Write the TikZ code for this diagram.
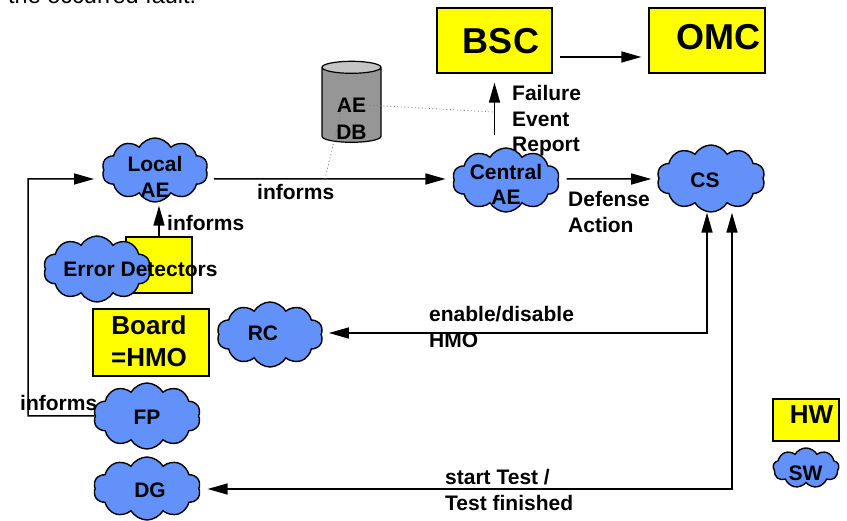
\documentclass[tikz,border=0pt]{standalone}
\usepackage{fontspec}
\setmainfont{Liberation Sans}
\usetikzlibrary{arrows.meta,shapes.symbols,shapes.geometric}
\definecolor{hwyellow}{RGB}{255,255,0}
\definecolor{swblue}{RGB}{98,145,250}
\definecolor{dbbody}{RGB}{150,150,150}
\definecolor{dbend}{RGB}{196,196,196}

\tikzset{
  box/.style={draw, line width=1.2pt, fill=hwyellow, inner sep=0pt},
  blob/.style={cloud, cloud puffs=10, cloud puff arc=120, cloud ignores aspect,
    draw, line width=1.4pt, fill=swblue, inner sep=0pt},
  txt/.style={font=\fontsize{21}{25.5}\selectfont\bfseries, inner sep=0pt, align=left},
  bigtxt/.style={font=\fontsize{36}{40}\selectfont\bfseries, inner sep=0pt},
  midtxt/.style={font=\fontsize{26}{32}\selectfont\bfseries, inner sep=0pt, align=center},
  flow/.style={line width=1.5pt, -{Triangle[length=20pt,width=11pt]}},
  flow2/.style={line width=1.5pt, {Triangle[length=20pt,width=11pt]}-{Triangle[length=20pt,width=11pt]}},
  dbline/.style={gray, line width=0.8pt, dash pattern=on 1pt off 2.5pt}
}

\begin{document}
\begin{tikzpicture}[x=1pt, y=-1pt]
\useasboundingbox (0,0) rectangle (847,521);

\node[anchor=base west, font=\fontsize{23.5}{28}\selectfont, inner sep=0pt] (head) at (8,3.5) {the occurred fault.};

% boxes
\node[box, minimum width=115pt, minimum height=65pt] (bsc) at (494.5,40.5) {};
\node[bigtxt] (bsct) at (501,41.5) {BSC};
\node[box, minimum width=116pt, minimum height=65pt] (omc) at (707,40.5) {};
\node[bigtxt] (omct) at (718,37) {OMC};
\node[box, minimum width=66pt, minimum height=56pt] (edbox) at (159,265) {};
\node[box, minimum width=116pt, minimum height=67pt] (board) at (151,342.5) {};
\node[midtxt] (boardt) at (149,341) {Board\\=HMO};
\node[box, minimum width=66pt, minimum height=42pt] (hw) at (806,420) {};
\node[midtxt] (hwt) at (811.5,415) {HW};

% data base
\node[cylinder, shape border rotate=90, draw, line width=1.2pt, aspect=1.8,
  minimum width=59pt, minimum height=81pt, cylinder uses custom fill,
  cylinder body fill=dbbody, cylinder end fill=dbend] (db) at (351.5,106.5) {};
\node[txt, align=center, font=\fontsize{21}{27.5}\selectfont\bfseries] (dbt) at (351.5,119) {AE\\DB};

% clouds
\node[blob, minimum width=106pt, minimum height=64pt] (lae) at (155,170) {};
\node[txt, align=center] (laet) at (155,177) {Local\\AE};
\node[blob, minimum width=107pt, minimum height=64pt] (cae) at (506,180) {};
\node[txt, align=center] (caet) at (506,184.5) {Central\\AE};
\node[blob, minimum width=108pt, minimum height=67pt] (cs) at (711,178.5) {};
\node[txt] (cst) at (705,180) {CS};
\node[blob, minimum width=107pt, minimum height=66pt] (ed) at (97,269) {};
\node[txt] (edt) at (140.5,269) {Error Detectors};
\node[blob, minimum width=106pt, minimum height=65pt] (rc) at (270,334.5) {};
\node[txt] (rct) at (263,333) {RC};
\node[blob, minimum width=107pt, minimum height=66pt] (fp) at (147,416) {};
\node[txt] (fpt) at (147,417) {FP};
\node[blob, minimum width=107pt, minimum height=63pt] (dg) at (147,488.5) {};
\node[txt] (dgt) at (150,490) {DG};
\node[blob, minimum width=66pt, minimum height=40pt, cloud puffs=9] (sw) at (806,468) {};
\node[txt] (swt) at (805.5,473) {SW};

% connectors
\coordinate (fer) at (494,112);
\coordinate (inf) at (325,179);
\draw[flow, shorten <=7pt, shorten >=8pt] ([yshift=-9pt]lae.east) -- ([yshift=1pt]cae.west);
\draw[flow, shorten >=3pt] (edbox.north) -- (edbox.north |- lae.south);
\draw[flow, shorten >=9pt] (fp.west) -| (28,179) -- ([yshift=-9pt]lae.west);
\draw[flow, shorten <=8pt, shorten >=7pt] ([yshift=1pt]cae.east) -- ([yshift=-0.5pt]cs.west);
\draw[flow, shorten <=12pt, shorten >=9pt] (cae.north -| bsc.south) -- (bsc.south);
\draw[flow, shorten <=7pt, shorten >=7pt] ([yshift=-16.5pt]bsc.east) -- ([yshift=-16.5pt]omc.west);
\draw[flow2, shorten <=7pt] ([yshift=1.5pt]rc.east) -| ([xshift=-4pt]cs.south);
\draw[flow2, shorten <=8pt] ([yshift=-0.5pt]dg.east) -| ([xshift=21pt]cs.south);
\draw[dbline] ([shift={(14.5,-1.5)}]db.center) -- (fer);
\draw[dbline] ([shift={(-8.5,-3.5)}]db.center) -- (inf);

% labels
\node[txt, anchor=west] (l1) at (257,192) {informs};
\node[txt, anchor=west] (l2) at (167,222.5) {informs};
\node[txt, anchor=west] (l3) at (20,403) {informs};
\node[txt, anchor=north west] (l4) at (512,85.5) {Failure\\Event\\Report};
\node[txt, anchor=north west] (l5) at (568,191.5) {Defense\\Action};
\node[txt, anchor=north west] (l6) at (429,306.5) {enable/disable\\HMO};
\node[txt, anchor=north west] (l7) at (445,469.5) {start Test /\\Test finished};
\end{tikzpicture}
\end{document}
